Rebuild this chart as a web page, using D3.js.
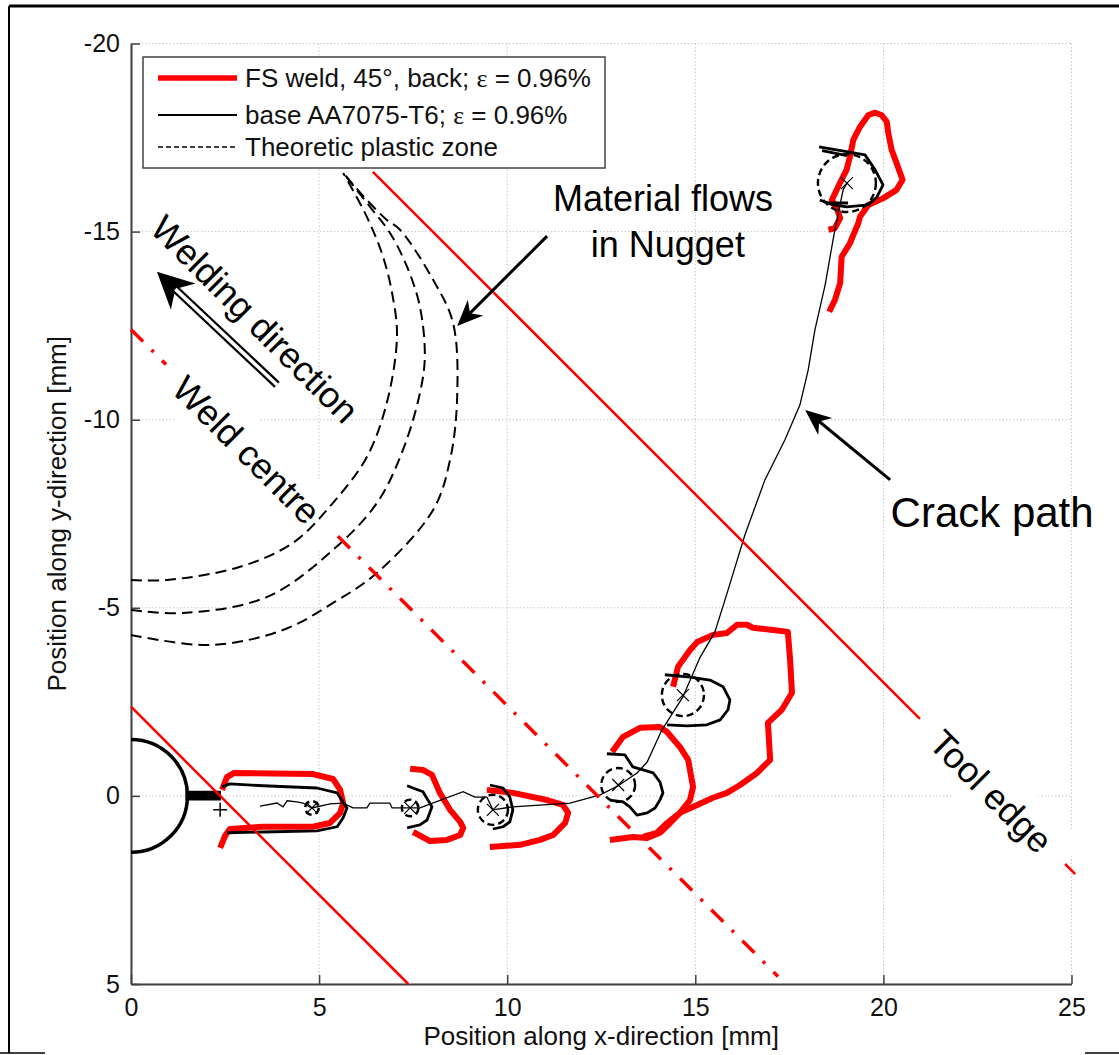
<!DOCTYPE html>
<html>
<head>
<meta charset="utf-8">
<script src="https://cdn.jsdelivr.net/npm/d3@7"></script>
<style>
body { margin: 0; background: #fff; }
svg { display: block; font-family: "Liberation Sans", Arial, sans-serif; }
</style>
</head>
<body>
<div id="chart"></div>
<script>
// axis ticks
var xTicks = [0, 5, 10, 15, 20, 25];
var yTicks = [-20, -15, -10, -5, 0, 5];

// legend entries (label, epsilon suffix)
var legendLabels = ["FS weld, 45°, back; ", "base AA7075-T6; ", "Theoretic plastic zone"];
var legendEps = ["ε", "ε", ""];
var legendStrain = [" = 0.96%", " = 0.96%", ""];

// FS weld plastic zone contours [x mm, y mm]
var fsWeld1 = [[2.42,-0.16],[2.55,-0.50],[2.74,-0.61],[4.84,-0.58],[5.37,-0.45],[5.56,-0.16],[5.64,0.19],[5.56,0.45],[5.29,0.72],[4.84,0.82],[3.51,0.82],[2.63,0.88],[2.50,1.06],[2.37,1.38]];
var fsWeld2 = [[7.42,-0.72],[7.76,-0.69],[8.00,-0.56],[8.21,-0.08],[8.48,0.37],[8.75,0.69],[8.83,0.85],[8.75,1.04],[8.40,1.17],[7.95,1.20],[7.50,0.96]];
var fsWeld3 = [[9.46,-0.16],[10.15,-0.08],[11.06,0.11],[11.48,0.24],[11.62,0.45],[11.54,0.72],[11.22,1.04],[10.87,1.17],[10.34,1.30],[9.54,1.36]];
var fsWeld4 = [[12.79,-1.17],[13.08,-1.57],[13.53,-1.81],[14.06,-1.83],[14.25,-1.70],[14.59,-1.30],[14.81,-0.96],[14.94,-0.24],[14.86,0.11],[14.59,0.45],[14.33,0.72],[14.06,0.98],[13.72,1.12],[13.34,1.09],[12.73,1.17]];
var fsWeld5 = [[14.41,-2.90],[14.54,-3.43],[14.86,-3.88],[15.05,-4.09],[15.47,-4.28],[15.84,-4.33],[16.11,-4.55],[16.37,-4.55],[16.53,-4.47],[17.07,-4.41],[17.46,-4.36],[17.52,-3.62],[17.57,-2.74],[17.30,-2.29],[16.93,-1.94],[16.99,-0.96],[16.64,-0.61],[16.19,-0.29],[15.84,-0.08],[15.47,0.05],[15.05,0.24],[14.59,0.45],[14.25,0.72],[13.98,0.98],[13.61,1.09]];
var fsWeld6 = [[18.54,-15.05],[18.71,-15.09],[18.85,-15.36],[18.76,-15.62],[18.63,-15.84],[18.80,-16.20],[19.02,-16.64],[19.11,-16.99],[19.20,-17.44],[19.38,-17.79],[19.60,-18.10],[19.78,-18.16],[19.95,-18.10],[20.09,-17.92],[20.13,-17.62],[20.22,-17.17],[20.35,-16.82],[20.51,-16.38],[20.35,-16.11],[20.00,-15.89],[19.60,-15.71],[19.38,-15.40],[19.33,-15.22],[19.11,-14.69],[18.89,-14.33],[18.85,-13.63],[18.71,-13.18],[18.56,-12.87]];

// base AA7075-T6 contours
var base1 = [[2.42,-0.24],[2.63,-0.32],[3.51,-0.27],[4.94,-0.21],[5.48,-0.08],[5.74,0.32],[5.64,0.58],[5.48,0.82],[4.94,0.93],[3.51,0.96],[2.55,0.98]];
var base2 = [[7.34,-0.27],[7.76,-0.11],[8.00,0.29],[7.87,0.64],[7.68,0.77],[7.34,0.85]];
var base3 = [[9.54,-0.29],[9.89,-0.21],[10.07,0.03],[10.15,0.37],[10.07,0.69],[9.89,0.82],[9.62,0.88]];
var base4 = [[12.65,-1.12],[13.13,-1.09],[13.34,-0.77],[13.61,-0.69],[13.88,-0.61],[14.06,-0.37],[14.14,-0.08],[14.06,0.11],[13.93,0.32],[13.72,0.45],[13.45,0.51],[13.26,0.29],[13.08,0.16],[12.73,0.11]];
var base5 = [[14.19,-3.22],[14.86,-3.16],[15.39,-3.08],[15.74,-2.90],[15.92,-2.55],[15.87,-2.29],[15.66,-2.02],[15.31,-1.89],[14.78,-1.86],[14.25,-1.89]];
var base6 = [[18.29,-17.25],[19.06,-17.12],[19.51,-17.04],[19.78,-16.64],[19.99,-16.24],[19.83,-15.92],[19.59,-15.71],[19.03,-15.66],[18.66,-15.71],[18.31,-15.84]];
var base6top = [[18.37,-17.15],[19.03,-17.02]];
var base6bottom = [[18.50,-15.76],[19.06,-15.76]];

// crack path
var crackPath = [[3.43,0.27],[3.88,0.19],[4.04,0.29],[4.15,0.13],[4.41,0.16],[4.57,0.19],[4.81,0.32],[5.29,0.21],[5.64,0.19],[5.90,0.32],[6.27,0.32],[6.35,0.19],[6.88,0.19],[6.94,0.32],[7.42,0.32],[7.68,0.32],[8.83,-0.11],[9.14,0.03],[9.46,0.03],[9.62,0.37],[10.15,0.29],[11.67,0.19],[12.47,-0.03],[12.95,-0.27],[13.45,-0.61],[13.72,-0.90],[14.11,-1.75],[14.67,-2.63],[15.12,-3.67],[15.52,-4.36],[15.79,-5.21],[16.32,-6.94],[16.85,-8.40],[17.38,-9.46],[17.78,-10.39],[18.00,-11.32],[18.18,-12.39],[18.45,-13.58],[18.71,-15.05],[18.93,-16.11],[19.03,-16.29]];

// crack tip positions [x, y, plastic zone radius] (mm)
var crackTips = [[4.81,0.32,0.18],[7.42,0.32,0.22],[9.62,0.37,0.40],[12.95,-0.29,0.45],[14.67,-2.68,0.56],[19.03,-16.29,0.77]];

// notch
var holeRadius = 1.5;
var notchBar = [[1.45,-0.14],[2.39,-0.14],[2.39,0.12],[1.45,0.12]];
var notchTip = [2.37, 0.37];

// theoretic plastic zones
var plasticZone1 = [[0,-5.74],[0.96,-5.74],[2.90,-6.09],[4.31,-6.73],[5.37,-7.79],[6.27,-9.01],[6.80,-10.45],[7.07,-12.20],[6.96,-13.26],[6.70,-14.33],[6.27,-15.39],[5.64,-16.56]];
var plasticZone2 = [[0,-4.94],[1.38,-4.86],[3.62,-5.29],[5.37,-6.54],[6.54,-7.79],[7.23,-9.20],[7.68,-10.71],[7.81,-11.67],[7.68,-13.00],[7.34,-14.06],[6.88,-14.97],[6.40,-15.60],[5.64,-16.56]];
var plasticZone3 = [[0,-4.28],[2.10,-4.01],[4.04,-4.41],[5.37,-5.13],[6.54,-5.93],[8.03,-7.60],[8.48,-8.93],[8.67,-10.61],[8.56,-12.57],[8.03,-13.72],[7.15,-15.05],[6.80,-15.31],[6.27,-15.84],[5.64,-16.56]];

// tool edges and weld centre (segments)
var toolEdgeSegs = [[[0,-2.37],[7.37,5.0]], [[6.43,-16.59],[20.97,-2.05]], [[24.83,1.81],[25.1,2.08]]];
var weldCentreSegs = [[[0,-12.4],[0.93,-11.47]], [[5.5,-6.9],[17.2,4.8]]];

// annotations
var arrowMaterial = [[11.06,-14.88],[8.67,-12.49]];
var arrowCrack = [[20.18,-8.40],[17.92,-10.26]];
var arrowWelding = [[3.88,-10.93],[0.69,-13.93]];
var materialText = ["Material flows", "in Nugget"];
var materialPos = [[14.14,-15.55],[14.27,-14.33]];
var crackText = "Crack path";
var crackPos = [22.89,-7.15];
var rotatedText = ["Welding direction", "Weld centre", "Tool edge"];
var rotatedPos = [[3.30,-12.68],[3.08,-9.2],[22.87,-0.12]];

var W = 1119, H = 1055;
var svg = d3.select("#chart").append("svg").attr("width", W).attr("height", H);

var x = d3.scaleLinear().domain([0, 25]).range([131, 1071.5]);
var y = d3.scaleLinear().domain([-20, 5]).range([43.5, 984]);
var line = d3.line().x(function(d) { return x(d[0]); }).y(function(d) { return y(d[1]); });
var smooth = d3.line().curve(d3.curveCatmullRom).x(function(d) { return x(d[0]); }).y(function(d) { return y(d[1]); });

// outer frame
svg.append("line").attr("x1", 9).attr("y1", 6).attr("x2", W).attr("y2", 6).attr("stroke", "#000").attr("stroke-width", 3);
svg.append("line").attr("x1", 9).attr("y1", 6).attr("x2", 9).attr("y2", 1053).attr("stroke", "#000").attr("stroke-width", 2);
svg.append("line").attr("x1", 0).attr("y1", 1053).attr("x2", 45).attr("y2", 1053).attr("stroke", "#000").attr("stroke-width", 1.5);
svg.append("line").attr("x1", 1085).attr("y1", 1053).attr("x2", W).attr("y2", 1053).attr("stroke", "#000").attr("stroke-width", 1.5);

svg.append("clipPath").attr("id", "plotclip").append("rect")
	.attr("x", x(0)).attr("y", y(-20)).attr("width", x(25) - x(0)).attr("height", y(5) - y(-20));

// grid
var grid = svg.append("g").attr("stroke", "#c8c8c8").attr("stroke-width", 1).attr("stroke-dasharray", "1.5,2");
xTicks.forEach(function(t) {
	grid.append("line").attr("x1", x(t)).attr("x2", x(t)).attr("y1", y(-20)).attr("y2", y(5));
});
yTicks.forEach(function(t) {
	grid.append("line").attr("y1", y(t)).attr("y2", y(t)).attr("x1", x(0)).attr("x2", x(25));
});

// white boxes behind rotated labels
var boxSize = [[0, 0], [245, 60], [205, 60]];
rotatedText.forEach(function(t, i) {
	if (boxSize[i][0] === 0) return;
	svg.append("rect")
		.attr("transform", "translate(" + x(rotatedPos[i][0]) + "," + y(rotatedPos[i][1]) + ") rotate(45)")
		.attr("x", -boxSize[i][0] / 2).attr("y", -boxSize[i][1] / 2)
		.attr("width", boxSize[i][0]).attr("height", boxSize[i][1]).attr("fill", "#fff");
});

// axes
var plain = function(d) { return String(d); };
var xAxis = svg.append("g").attr("transform", "translate(0," + y(5) + ")")
	.call(d3.axisBottom(x).tickValues(xTicks).tickFormat(plain).tickSizeInner(-9).tickSizeOuter(0).tickPadding(14));
var yAxis = svg.append("g").attr("transform", "translate(" + x(0) + ",0)")
	.call(d3.axisLeft(y).tickValues(yTicks).tickFormat(plain).tickSizeInner(-9).tickSizeOuter(0).tickPadding(11));
[xAxis, yAxis].forEach(function(a) {
	a.select(".domain").attr("stroke", "#404040").attr("stroke-width", 2);
	a.selectAll(".tick line").attr("stroke", "#404040").attr("stroke-width", 1.5);
	a.selectAll(".tick text").attr("fill", "#111").style("font-size", "25px")
		.style("font-family", "'Liberation Sans', Arial, sans-serif");
});

svg.append("text").attr("x", (x(0) + x(25)) / 2).attr("y", 1045).attr("text-anchor", "middle")
	.style("font-size", "26px").attr("fill", "#111").text("Position along x-direction [mm]");
svg.append("text").attr("transform", "translate(66," + (y(-20) + y(5)) / 2 + ") rotate(-90)")
	.attr("text-anchor", "middle").style("font-size", "26px").attr("fill", "#111")
	.text("Position along y-direction [mm]");

var plot = svg.append("g").attr("clip-path", "url(#plotclip)");

// tool edges & weld centre
toolEdgeSegs.forEach(function(s) {
	svg.append("path").attr("d", line(s)).attr("fill", "none").attr("stroke", "#ff0000").attr("stroke-width", 2.5);
});
weldCentreSegs.forEach(function(s) {
	svg.append("path").attr("d", line(s)).attr("fill", "none").attr("stroke", "#ff0000")
		.attr("stroke-width", 3.5).attr("stroke-dasharray", "17,12,3,12");
});

// theoretic plastic zones
[plasticZone1, plasticZone2, plasticZone3].forEach(function(p) {
	plot.append("path").attr("d", smooth(p)).attr("fill", "none").attr("stroke", "#000")
		.attr("stroke-width", 2).attr("stroke-dasharray", "11,6");
});

// notch hole
plot.append("circle").attr("cx", x(0)).attr("cy", y(0)).attr("r", x(holeRadius) - x(0))
	.attr("fill", "none").attr("stroke", "#000").attr("stroke-width", 3.5);
plot.append("path").attr("d", line(notchBar) + "Z").attr("fill", "#000");
plot.append("path").attr("d", "M" + (x(notchTip[0]) - 7) + "," + y(notchTip[1]) + "h14M" + x(notchTip[0]) + "," + (y(notchTip[1]) - 7) + "v14")
	.attr("stroke", "#000").attr("stroke-width", 1.5);

// FS weld contours
[fsWeld1, fsWeld2, fsWeld3, fsWeld4, fsWeld5, fsWeld6].forEach(function(p) {
	plot.append("path").attr("d", line(p)).attr("fill", "none").attr("stroke", "#ff0000")
		.attr("stroke-width", 6).attr("stroke-linejoin", "round");
});

// base contours
[base1, base2, base3, base4, base5, base6, base6top, base6bottom].forEach(function(p) {
	plot.append("path").attr("d", line(p)).attr("fill", "none").attr("stroke", "#000")
		.attr("stroke-width", 2.8).attr("stroke-linejoin", "round");
});

// crack path
plot.append("path").attr("d", line(crackPath)).attr("fill", "none").attr("stroke", "#000").attr("stroke-width", 1.3);

// crack tip plastic zones + markers
crackTips.forEach(function(c) {
	var cx = x(c[0]), cy = y(c[1]);
	plot.append("circle").attr("cx", cx).attr("cy", cy).attr("r", x(c[2]) - x(0))
		.attr("fill", "none").attr("stroke", "#000").attr("stroke-width", 2.4).attr("stroke-dasharray", "7,4");
	plot.append("path").attr("d", "M" + (cx - 6) + "," + (cy - 6) + "L" + (cx + 6) + "," + (cy + 6) + "M" + (cx - 6) + "," + (cy + 6) + "L" + (cx + 6) + "," + (cy - 6))
		.attr("stroke", "#000").attr("stroke-width", 1.2);
});

// arrows
function arrow(p, len, half, width) {
	var x1 = x(p[0][0]), y1 = y(p[0][1]), x2 = x(p[1][0]), y2 = y(p[1][1]);
	var dx = x2 - x1, dy = y2 - y1, L = Math.sqrt(dx * dx + dy * dy);
	var ux = dx / L, uy = dy / L, nx = -uy, ny = ux;
	var bx = x2 - ux * len, by = y2 - uy * len;
	var mx = x2 - ux * len * 0.7, my = y2 - uy * len * 0.7;
	svg.append("line").attr("x1", x1).attr("y1", y1).attr("x2", mx).attr("y2", my)
		.attr("stroke", "#000").attr("stroke-width", width);
	svg.append("path").attr("d", "M" + x2 + "," + y2 + "L" + (bx + nx * half) + "," + (by + ny * half) +
		"L" + mx + "," + my + "L" + (bx - nx * half) + "," + (by - ny * half) + "Z").attr("fill", "#000");
	return [mx, my];
}
arrow(arrowMaterial, 26, 11, 3);
arrow(arrowCrack, 26, 11, 3);
var wm = arrow(arrowWelding, 36, 18, 8);
svg.append("line").attr("x1", x(arrowWelding[0][0])).attr("y1", y(arrowWelding[0][1]))
	.attr("x2", wm[0]).attr("y2", wm[1]).attr("stroke", "#fff").attr("stroke-width", 3.5);

// annotation text
materialText.forEach(function(t, i) {
	svg.append("text").attr("x", x(materialPos[i][0])).attr("y", y(materialPos[i][1]))
		.attr("text-anchor", "middle").style("font-size", "36px").attr("fill", "#000").text(t);
});
svg.append("text").attr("x", x(crackPos[0])).attr("y", y(crackPos[1]))
	.attr("text-anchor", "middle").style("font-size", "42px").attr("fill", "#000").text(crackText);
rotatedText.forEach(function(t, i) {
	svg.append("text")
		.attr("transform", "translate(" + x(rotatedPos[i][0]) + "," + y(rotatedPos[i][1]) + ") rotate(45)")
		.attr("text-anchor", "middle").attr("dy", "0.36em").style("font-size", "36px").attr("fill", "#000").text(t);
});

// legend
var lg = svg.append("g").attr("transform", "translate(143,57)");
lg.append("rect").attr("width", 462).attr("height", 111).attr("fill", "#fff")
	.attr("stroke", "#444").attr("stroke-width", 1.5);
var rowY = [21, 58, 90];
var legendStroke = [["#ff0000", 5.5, null], ["#000", 2, null], ["#000", 1.5, "5,3"]];
legendLabels.forEach(function(lab, i) {
	lg.append("line").attr("x1", 15).attr("x2", 94).attr("y1", rowY[i]).attr("y2", rowY[i])
		.attr("stroke", legendStroke[i][0]).attr("stroke-width", legendStroke[i][1])
		.attr("stroke-dasharray", legendStroke[i][2]);
	var t = lg.append("text").attr("x", 102).attr("y", rowY[i] + 9).style("font-size", "26px").attr("fill", "#111");
	t.append("tspan").text(lab);
	if (legendEps[i]) {
		t.append("tspan").style("font-family", "'Liberation Serif', 'Times New Roman', serif").text(legendEps[i]);
		t.append("tspan").text(legendStrain[i]);
	}
});
</script>
</body>
</html>
